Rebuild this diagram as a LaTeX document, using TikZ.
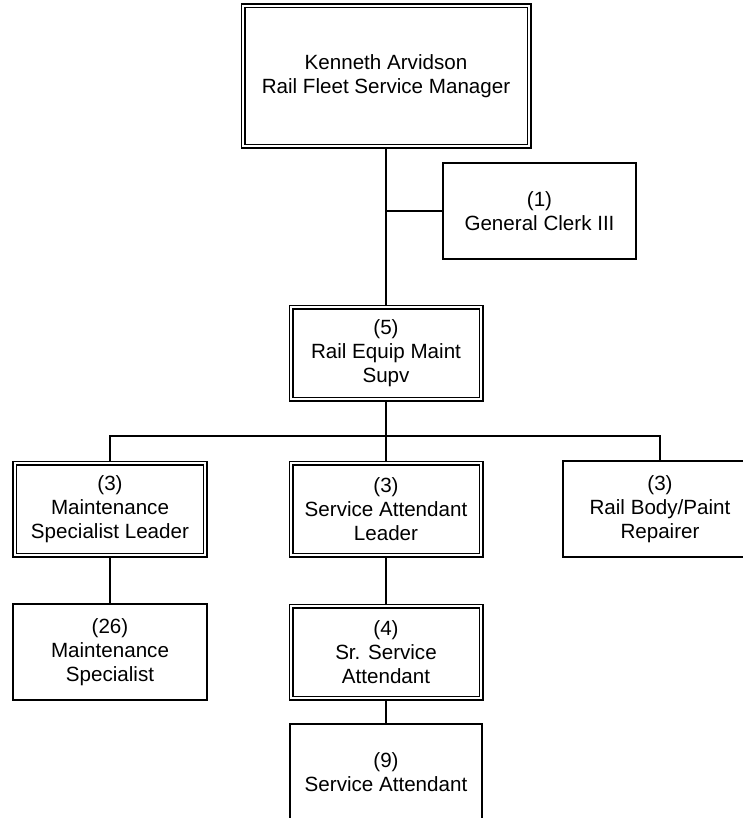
\documentclass[tikz,border=0pt]{standalone}
\usepackage{fontspec}
\setmainfont{Liberation Sans}
\usetikzlibrary{backgrounds}
\tikzset{
  box/.style={draw, line width=1.4bp, inner sep=0pt, align=center,
    font=\fontsize{20.6bp}{24bp}\selectfont},
  singlebox/.style={box, minimum width=194bp, minimum height=96bp},
  dblbox/.style={box, double, double distance=2.4bp, line width=1.3bp,
    minimum width=190bp, minimum height=92bp},
  link/.style={line width=1.7bp}
}
\begin{document}
\begin{tikzpicture}[x=1bp, y=-1bp]
\clip (0,0) rectangle (743,818);
\node[dblbox, minimum width=286bp, minimum height=140bp] (top) at (386,76)
  {Kenneth Arvidson\\Rail Fleet Service Manager};
\node[singlebox, minimum width=193bp] (clerk) at (539.5,211) {(1)\\General Clerk III};
\node[dblbox] (supv) at (386,353) {(5)\\Rail Equip Maint\\Supv};
\node[dblbox] (msl) at (110,509) {(3)\\Maintenance\\Specialist Leader};
\node[dblbox] (sal) at (386,509) {(3)\\Service Attendant\\Leader};
\node[singlebox] (rbp) at (660,509) {(3)\\Rail Body/Paint\\Repairer};
\node[singlebox] (ms) at (110,652) {(26)\\Maintenance\\Specialist};
\node[dblbox] (ssa) at (386,652) {(4)\\Sr. Service\\Attendant};
\node[singlebox, minimum width=192bp] (sa) at (386,772) {(9)\\Service Attendant};
\coordinate (bus) at (386,436);
\begin{pgfonlayer}{background}
\fill[white] (0,0) rectangle (743,818);
\draw[link] (top.south) -- (supv.north);
\draw[link] (clerk.west) -- (clerk.west -| top.south);
\draw[link] (supv.south) -- (bus);
\draw[link] (msl.north) |- (bus) -| (rbp.north);
\draw[link] (sal.north) -- (bus);
\draw[link] (msl.south) -- (ms.north);
\draw[link] (sal.south) -- (ssa.north);
\draw[link] (ssa.south) -- (sa.north);
\end{pgfonlayer}
\end{tikzpicture}
\end{document}
